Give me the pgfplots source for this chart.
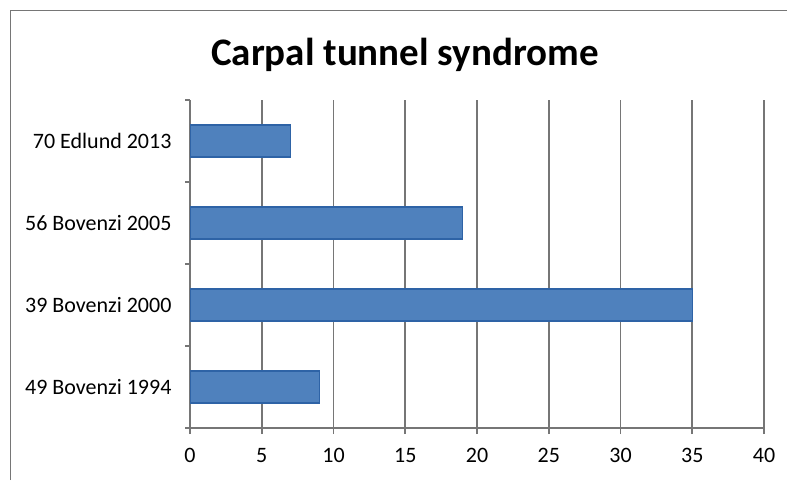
\documentclass[border=0pt]{standalone}
\usepackage{pgfplots}
\pgfplotsset{compat=1.18}
\usepackage{fontspec}
\setmainfont{Carlito}
\definecolor{barblue}{HTML}{4F81BD}
\definecolor{bardark}{HTML}{2E63A6}
\definecolor{gridgray}{HTML}{767676}
\begin{document}
\begin{tikzpicture}
\useasboundingbox (0pt,0pt) rectangle (787pt,480pt);
\draw[gridgray, line width=1.5pt] (10.5pt,0pt) -- (10.5pt,469.5pt) -- (787pt,469.5pt);
\node[font=\fontsize{39}{44}\selectfont\bfseries] at (405pt,425pt) {Carpal tunnel syndrome};
\begin{axis}[
  at={(190pt,52pt)}, anchor=south west,
  scale only axis, width=574pt, height=328pt,
  xmin=0, xmax=40, ymin=-0.5, ymax=3.5,
  xtick={0,5,...,40},
  ytick={0,1,2,3},
  yticklabels={49 Bovenzi 1994,39 Bovenzi 2000,56 Bovenzi 2005,70 Edlund 2013},
  minor ytick={-0.5,0.5,1.5,2.5,3.5},
  major y tick style={draw=none},
  minor y tick style={draw=gridgray, line width=1.5pt},
  minor tick length=5pt,
  major tick length=6pt,
  tick align=outside,
  axis x line*=bottom, axis y line*=left,
  axis line style={draw=gridgray, line width=1.6pt, -},
  x tick style={draw=gridgray, line width=1.6pt},
  xmajorgrids,
  grid style={draw=gridgray, line width=1.6pt},
  tick label style={font=\fontsize{22}{26}\selectfont, text=black},
  /pgf/number format/assume math mode=true,
  xticklabel style={yshift=-11pt},
  yticklabel style={xshift=-9pt},
  xbar, bar width=32pt,
]
\addplot[fill=barblue, draw=bardark, line width=1.2pt] coordinates {(9,0) (35,1) (19,2) (7,3)};
\end{axis}
\end{tikzpicture}
\end{document}
